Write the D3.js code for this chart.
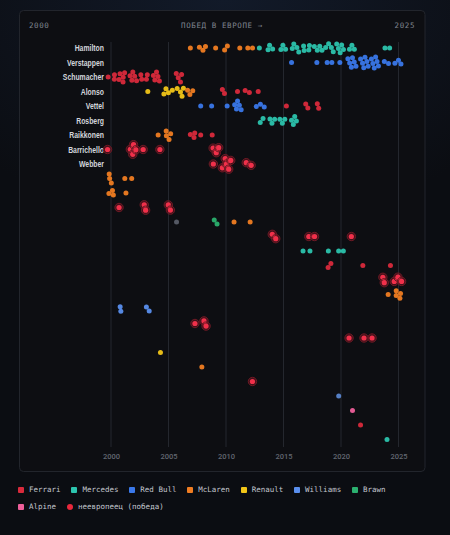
<!DOCTYPE html>
<html>
<head>
  <meta charset="utf-8">
  <title>Победы в Европе</title>
  <style>
    html, body { margin: 0; width: 450px; height: 535px; overflow: hidden; }
    body { background: radial-gradient(ellipse 95% 55% at 50% 0%, #121a29 0%, #0b0d12 78%); font-family: "DejaVu Sans Mono", monospace; }
    svg { position: absolute; left: 0; top: 0; }
    .legend { position: absolute; left: 18px; top: 485px; width: 405px; display: flex; flex-wrap: wrap; column-gap: 10.8px; row-gap: 7px; font-size: 7.5px; color: #c3c7cf; line-height: 10px; }
    .legend .item { display: flex; align-items: center; gap: 5px; }
    .legend .sw { width: 6px; height: 6px; border-radius: 1px; }
    .legend .dot { border-radius: 50%; }
  </style>
</head>
<body>
  <svg width="450" height="535"></svg>
  <div class="legend"></div>
  <script src="https://d3js.org/d3.v7.min.js"></script>
  <script>
    // --- data ---
    const yearTicks = [2000, 2005, 2010, 2015, 2020, 2025];
    const teams = ["Ferrari", "Mercedes", "Red Bull", "McLaren", "Renault", "Williams", "Brawn", "Alpine", "AlphaTauri", "Honda"];
    const teamColors = ["#d92a3c", "#2cc4ae", "#3a78ea", "#f07d22", "#f2c618", "#5a8fee", "#2bb06f", "#ee5f9b", "#5a86d0", "#585d68"];
    const legendTeams = teams.slice(0, 8);
    const nonEuropean = ["Barrichello", "Webber", "Montoya", "Ricciardo", "Piastri", "Massa", "Perez", "Maldonado"];

    const drivers = ["Hamilton", "Verstappen", "Schumacher", "Alonso", "Vettel", "Rosberg", "Raikkonen",
      "Barrichello", "Webber", "Coulthard", "Hakkinen", "Montoya", "Button", "Ricciardo", "Bottas",
      "Leclerc", "Piastri", "Norris", "R. Schumacher", "Massa", "Perez", "Trulli", "Kovalainen",
      "Maldonado", "Gasly", "Ocon", "Sainz", "Russell"];
    const labeledDrivers = drivers.slice(0, 9);

    const hamilton = {
      "McLaren": [2006.9, 2007.7, 2008.0, 2008.2, 2009.1, 2009.9, 2010.1, 2011.2, 2011.9, 2012.3],
      "Mercedes": [2012.9, 2013.7, 2013.8, 2014.0, 2014.8, 2014.95, 2015.15, 2015.8, 2015.95, 2016.1, 2016.3,
        2016.75, 2016.85, 2017.15, 2017.25, 2017.7, 2018.0, 2018.15, 2018.3, 2018.65, 2018.95, 2019.15,
        2019.3, 2019.65, 2019.8, 2019.9, 2020.05, 2020.2, 2020.75, 2020.95, 2021.15, 2023.85, 2024.2]
    };
    const verstappen = {
      "Red Bull": [2015.7, 2017.9, 2018.8, 2019.2, 2019.9,
        2020.65, 2020.8, 2020.9, 2021.0, 2021.1, 2021.25,
        2021.75, 2021.9, 2022.0, 2022.1, 2022.2, 2022.3,
        2022.7, 2022.8, 2022.9, 2023.0, 2023.1, 2023.2,
        2023.8, 2024.1, 2024.7, 2025.0, 2025.2]
    };
    const schumacher = {
      "Ferrari": [1999.75, 2000.3, 2000.32, 2000.75, 2000.85, 2000.95, 2001.05, 2001.15,
        2001.7, 2001.8, 2001.9, 2002.05, 2002.2, 2002.6, 2002.7, 2003.05, 2003.15,
        2003.75, 2003.85, 2003.95, 2004.05, 2004.15, 2005.7, 2005.9, 2006.0, 2006.1]
    };
    const alonso = {
      "Renault": [2003.2, 2004.7, 2004.8, 2004.9, 2005.3, 2005.8, 2006.05, 2006.15, 2006.3],
      "McLaren": [2006.65, 2006.85, 2007.1],
      "Ferrari": [2009.7, 2009.85, 2011.0, 2011.7, 2012.0, 2012.8]
    };
    const vettel = {
      "Red Bull": [2007.8, 2008.75, 2010.1, 2010.85, 2010.95, 2011.0, 2011.1, 2011.25, 2012.65, 2013.0, 2013.3],
      "Ferrari": [2015.25, 2016.95, 2017.1, 2017.95, 2018.05]
    };
    const rosberg = {
      "Mercedes": [2013.0, 2013.2, 2013.85, 2014.0, 2014.2, 2014.7, 2014.9, 2015.1, 2015.7, 2015.9, 2016.0, 2016.05]
    };
    const raikkonen = {
      "McLaren": [2004.1, 2004.8, 2004.9, 2005.0, 2005.15],
      "Ferrari": [2006.95, 2007.2, 2007.25, 2007.8, 2008.8]
    };
    const barrichello = {
      "Ferrari": [1999.7, 2001.8, 2001.9, 2001.95, 2002.05, 2002.8, 2004.25],
      "Brawn": [2008.95, 2009.15, 2009.3]
    };
    const webber = { "Red Bull": [2008.9, 2009.75, 2009.95, 2010.05, 2010.2, 2010.35, 2011.8, 2012.15] };
    const coulthard = { "McLaren": [1999.85, 1999.9, 2000.0, 2001.2, 2001.8] };
    const hakkinen = { "McLaren": [1999.9, 2000.1, 2000.15, 2001.3] };
    const montoya = { "Williams": [2000.7, 2002.9, 2003.0], "McLaren": [2005.0, 2005.15] };
    const button = { "Honda": [2005.7], "Brawn": [2009.0, 2009.2], "McLaren": [2010.7, 2012.1] };
    const ricciardo = { "Red Bull": [2014.05, 2014.3, 2017.2, 2017.7], "McLaren": [2020.9] };
    const bottas = { "Mercedes": [2016.7, 2017.3, 2018.9, 2019.8, 2020.2] };
    const leclerc = { "Ferrari": [2018.9, 2019.1, 2021.9, 2024.3] };
    const piastri = { "McLaren": [2023.65, 2023.75, 2024.65, 2024.95, 2025.25] };
    const norris = { "McLaren": [2024.1, 2024.8, 2024.9, 2025.05, 2025.15] };
    const ralfSchumacher = { "Williams": [2000.8, 2000.85, 2003.1, 2003.3] };
    const massa = { "Ferrari": [2007.3, 2008.1, 2008.25] };
    const perez = { "Red Bull": [2020.7, 2022.0, 2022.7] };
    const trulli = { "Renault": [2004.3] };
    const kovalainen = { "McLaren": [2007.9] };
    const maldonado = { "Williams": [2012.3] };
    const gasly = { "AlphaTauri": [2019.8] };
    const ocon = { "Alpine": [2021.0] };
    const sainz = { "Ferrari": [2021.7] };
    const russell = { "Mercedes": [2024.0] };

    const winsByDriver = [hamilton, verstappen, schumacher, alonso, vettel, rosberg, raikkonen,
      barrichello, webber, coulthard, hakkinen, montoya, button, ricciardo, bottas,
      leclerc, piastri, norris, ralfSchumacher, massa, perez, trulli, kovalainen,
      maldonado, gasly, ocon, sainz, russell];

    // --- chart ---
    const svg = d3.select("svg");
    const x = d3.scaleLinear().domain([2000, 2025]).range([111, 398.5]);
    const y = d3.scalePoint().domain(drivers).range([48, 439.5]);
    const color = d3.scaleOrdinal().domain(teams).range(teamColors);

    // panel
    svg.append("rect")
      .attr("x", 19.5).attr("y", 10.5).attr("width", 405.5).attr("height", 461)
      .attr("rx", 4).attr("fill", "#0d0e12").attr("stroke", "#22252c");

    // header
    const head = svg.append("g")
      .attr("font-family", "DejaVu Sans Mono, monospace")
      .attr("font-size", 7.5).attr("letter-spacing", 0.6).attr("fill", "#7f848e");
    head.append("text").attr("x", 29).attr("y", 27.5).text(yearTicks[0]);
    head.append("text").attr("x", 415).attr("y", 27.5).attr("text-anchor", "end").text(yearTicks[yearTicks.length - 1]);
    head.append("text").attr("x", 222).attr("y", 27.5).attr("text-anchor", "middle").text("ПОБЕД В ЕВРОПЕ →");

    // grid
    svg.append("g").selectAll("line")
      .data(yearTicks).join("line")
      .attr("x1", d => x(d)).attr("x2", d => x(d))
      .attr("y1", 42).attr("y2", 447)
      .attr("stroke", "#24272e").attr("stroke-width", 1);

    // axis
    const axis = svg.append("g")
      .attr("transform", "translate(0,451)")
      .call(d3.axisBottom(x).tickValues(yearTicks).tickFormat(d3.format("d")).tickSize(0));
    axis.select(".domain").remove();
    axis.selectAll("text")
      .attr("font-family", "Roboto, sans-serif").attr("font-size", 7.5)
      .attr("font-weight", 500).attr("fill", "#626771");

    // driver labels (narrowed bold sans)
    svg.append("g").selectAll("g")
      .data(labeledDrivers).join("g")
      .attr("transform", d => `translate(104,${y(d)}) scale(0.8,1)`)
      .append("text")
      .attr("dy", "0.35em")
      .attr("text-anchor", "end")
      .attr("font-family", "Liberation Sans, Arial, sans-serif")
      .attr("font-weight", 700).attr("font-size", 8.6).attr("fill", "#d2d5db")
      .text(d => d);

    // wins -> nodes
    const nodes = [];
    drivers.forEach((name, i) => {
      const rec = winsByDriver[i];
      Object.keys(rec).forEach(team => {
        rec[team].forEach(date => {
          nodes.push({ driver: name, team, date, ne: nonEuropean.includes(name) });
        });
      });
    });
    nodes.forEach((d, i) => {
      d.x = x(d.date);
      d.y = y(d.driver) + ((i % 3) - 1) * 2;
    });

    const sim = d3.forceSimulation(nodes)
      .force("x", d3.forceX(d => x(d.date)).strength(1))
      .force("y", d3.forceY(d => y(d.driver)).strength(0.18))
      .force("collide", d3.forceCollide(d => d.ne ? 2.8 : 2.35).iterations(2))
      .stop();
    for (let i = 0; i < 300; i++) sim.tick();

    const dots = svg.append("g");
    dots.selectAll("circle.win")
      .data(nodes.filter(d => !d.ne)).join("circle")
      .attr("class", "win")
      .attr("cx", d => d.x).attr("cy", d => d.y).attr("r", 2.5)
      .attr("fill", d => color(d.team)).attr("fill-opacity", 0.95);

    const ne = dots.selectAll("g.ne")
      .data(nodes.filter(d => d.ne)).join("g")
      .attr("class", "ne")
      .attr("transform", d => `translate(${d.x},${d.y})`);
    ne.append("circle").attr("r", 4.2)
      .attr("fill", "rgba(190,25,45,0.3)").attr("stroke", "#6e1a25").attr("stroke-width", 1);
    ne.append("circle").attr("r", 2.6).attr("fill", "#f0304a");

    // legend
    const legend = d3.select(".legend");
    legendTeams.forEach(t => {
      const item = legend.append("div").attr("class", "item");
      item.append("span").attr("class", "sw").style("background", color(t));
      item.append("span").text(t);
    });
    const neItem = legend.append("div").attr("class", "item");
    neItem.append("span").attr("class", "sw dot").style("background", "#e8283c");
    neItem.append("span").text("неевропеец (победа)");
  </script>
</body>
</html>
